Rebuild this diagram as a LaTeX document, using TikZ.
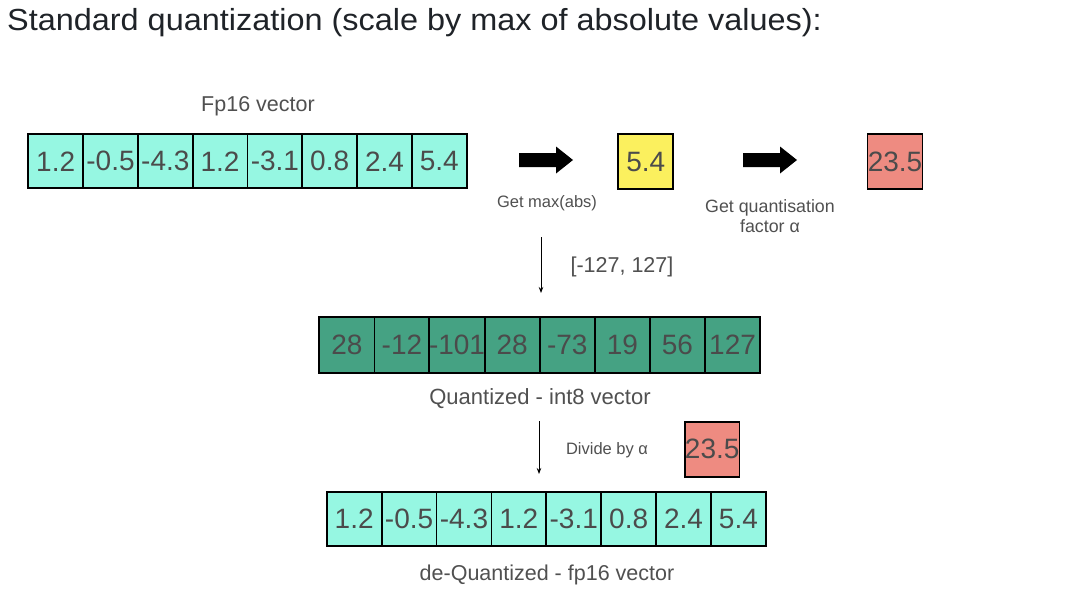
\documentclass[tikz,border=0pt]{standalone}
\usepackage{fontspec}
\setmainfont{Liberation Sans}
\usetikzlibrary{arrows.meta}
\definecolor{aqua}{HTML}{96F7E2}
\definecolor{dgreen}{HTML}{45A283}
\definecolor{yel}{HTML}{FBF05E}
\definecolor{salmon}{HTML}{EE8B81}
\definecolor{numgray}{HTML}{4B4B4B}
\definecolor{lblgray}{HTML}{505050}
\definecolor{titlec}{HTML}{1F2328}
\tikzset{
  cellbox/.style={draw=black, line width=1.8pt, inner sep=0pt, text=numgray,
    font=\fontsize{28}{28}\selectfont, minimum width=55pt, minimum height=54pt},
  biglbl/.style={text=lblgray, font=\fontsize{21.5}{24}\selectfont, inner sep=0pt},
  smalllbl/.style={text=lblgray, font=\fontsize{16.5}{20}\selectfont, inner sep=0pt, align=center},
  fatarrow/.style={fill=black, draw=none},
  thinarrow/.style={draw=black, line width=0.8pt, -{Stealth[length=6pt,width=4.5pt]}}
}
\begin{document}
\begin{tikzpicture}[x=1pt,y=-1pt]
\useasboundingbox[fill=white] (0,0) rectangle (1074,610);
% title
\node[anchor=west, text=titlec, font=\fontsize{30.5}{32}\selectfont, inner sep=0pt] (title) at (7,23) {\scalebox{1.063}[1]{Standard quantization (scale by max of absolute values):}};
% Fp16 row
\node[biglbl] (fplbl) at (258,106) {Fp16 vector};
\foreach \v [count=\i from 0] in {1.2,-0.5,-4.3,1.2,-3.1,0.8,2.4,5.4}{
  \node[cellbox, fill=aqua, minimum width=54.8pt] (a\i) at (28.3+27.4+\i*54.8,161.3) {\v};
}
% arrow 1
\fill[fatarrow] (519,153) -- (556,153) -- (556,146.5) -- (573,160) -- (556,173.5) -- (556,167) -- (519,167) -- cycle;
\node[smalllbl] (getmax) at (547,203) {Get max(abs)};
% yellow box
\node[cellbox, fill=yel, minimum width=55pt, minimum height=55pt] (maxv) at (645.8,161.7) {5.4};
% arrow 2
\fill[fatarrow] (743,153) -- (780,153) -- (780,146.5) -- (797,160) -- (780,173.5) -- (780,167) -- (743,167) -- cycle;
\node[smalllbl, font=\fontsize{17.8}{20}\selectfont] (getq) at (770,216) {Get quantisation\\factor α};
% salmon box
\node[cellbox, fill=salmon, minimum width=55pt, minimum height=55pt] (alpha1) at (895,161.7) {23.5};
% down arrow 1
\coordinate (d1s) at (541,237);
\coordinate (d1e) at (541,293);
\draw[thinarrow] (d1s) -- (d1e);
\node[biglbl, font=\fontsize{21.5}{24}\selectfont] (range) at (622,267) {[-127, 127]};
% int8 row
\foreach \v [count=\i from 0] in {28,-12,-101,28,-73,19,56,127}{
  \node[cellbox, fill=dgreen, minimum width=55.1pt, minimum height=56pt] (b\i) at (319.3+27.55+\i*55.1,344.7) {\v};
}
\node[biglbl, font=\fontsize{22}{24}\selectfont] (qlbl) at (540,399) {Quantized - int8 vector};
% down arrow 2
\coordinate (d2s) at (539,421);
\coordinate (d2e) at (539,474);
\draw[thinarrow] (d2s) -- (d2e);
\node[smalllbl] (divlbl) at (607,450) {Divide by α};
\node[cellbox, fill=salmon, minimum width=54.5pt, minimum height=55pt] (alpha2) at (712.2,449.2) {23.5};
% de-quantized row
\foreach \v [count=\i from 0] in {1.2,-0.5,-4.3,1.2,-3.1,0.8,2.4,5.4}{
  \node[cellbox, fill=aqua, minimum width=54.9pt] (c\i) at (326.7+27.45+\i*54.9,519) {\v};
}
\node[biglbl] (dqlbl) at (547,575) {de-Quantized - fp16 vector};
\end{tikzpicture}
\end{document}
